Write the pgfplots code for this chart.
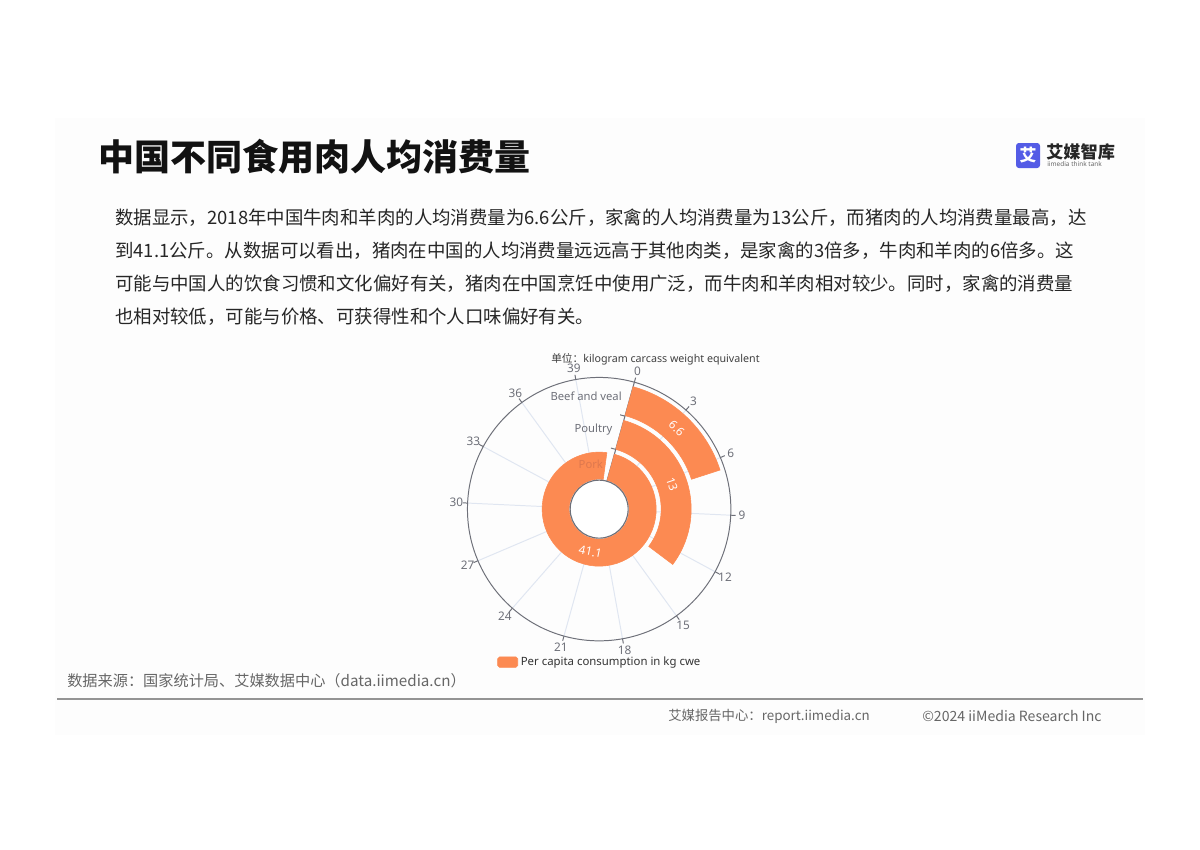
\documentclass[border=0pt]{standalone}
\usepackage{pgfplots}
\pgfplotsset{compat=1.18}
\usepackage{pgfplotstable}
\usepackage{fontspec}
\setmainfont{Noto Sans}
\newfontfamily\cjk{Noto Sans CJK SC}
\newfontfamily\chf{Noto Sans}
\definecolor{barorange}{RGB}{252,138,82}
\definecolor{axgrey}{RGB}{110,112,121}
\definecolor{splitc}{RGB}{224,230,241}
\definecolor{logoblue}{RGB}{84,92,230}
\definecolor{porklab}{RGB}{222,120,78}
\pgfdeclareplotmark{nothing}{}
\newcommand\fs[1]{\fontsize{#1pt}{#1pt}\selectfont}
% value = kg per capita; rin/rout = ring radii (px)
\pgfplotstableread{
name value rin rout
Pork 41.1 30 57
Poultry 13 62 92
Beef 6.6 97 127
}\meat
\begin{document}
\begin{tikzpicture}
% ---------- page (pixel frame) ----------
\begin{scope}[x=0.025cm,y=-0.025cm]
  \fill[white] (0,0) rectangle (1200,849);
  \fill[black!0.7] (55,118) rectangle (1145,735);
  \node[anchor=west, inner sep=0pt, font=\cjk\bfseries\fs{25.6}, text=black!93] at (98,157) {中国不同食用肉人均消费量};
  % logo
  \fill[logoblue, rounded corners=2pt] (1016,143) rectangle (1040,168);
  \node[inner sep=0pt, text=white, font=\cjk\bfseries\fs{12}] at (1028,155.5) {艾};
  \node[anchor=west, inner sep=0pt, font=\cjk\bfseries\fs{12.2}, text=black!85] at (1046,152) {艾媒智库};
  \node[anchor=west, inner sep=0pt, font=\chf\fs{4.6}, text=black!60] at (1047,164.5) {iimedia think tank};
  % paragraph
  \begin{scope}[every node/.style={anchor=west, inner sep=0pt, font=\cjk\fs{13.1}, text=black!85}]
  \node at (115,218) {数据显示，2018年中国牛肉和羊肉的人均消费量为6.6公斤，家禽的人均消费量为13公斤，而猪肉的人均消费量最高，达};
  \node at (115,251) {到41.1公斤。从数据可以看出，猪肉在中国的人均消费量远远高于其他肉类，是家禽的3倍多，牛肉和羊肉的6倍多。这};
  \node at (115,284) {可能与中国人的饮食习惯和文化偏好有关，猪肉在中国烹饪中使用广泛，而牛肉和羊肉相对较少。同时，家禽的消费量};
  \node at (115,317) {也相对较低，可能与价格、可获得性和个人口味偏好有关。};
  \end{scope}
  % unit
  \node[anchor=west, inner sep=0pt, font=\chf\fs{7.6}, text=black!75] at (551,359) {{\cjk 单位：}kilogram carcass weight equivalent};
  % source & footer
  \node[anchor=west, inner sep=0pt, font=\cjk\fs{10.8}, text=black!60] at (67,681) {数据来源：国家统计局、艾媒数据中心（data.iimedia.cn）};
  \draw[black!42, line width=2.1pt] (57,699) -- (1143,699);
  \node[anchor=west, inner sep=0pt, font=\cjk\fs{9.5}, text=black!60] at (668,716) {艾媒报告中心：report.iimedia.cn};
  \node[anchor=west, inner sep=0pt, font=\cjk\fs{10}, text=black!60] at (922,716) {©2024 iiMedia Research Inc};
\end{scope}
% ---------- polar grid (under bars) ----------
\begin{scope}[shift={(14.975cm,-12.725cm)}, x=0.025cm, y=0.025cm]
  \foreach \t in {0,3,...,39} {
    \pgfmathsetmacro\a{74.5-\t*360/42}
    \draw[splitc, line width=0.7pt] (\a:29) -- (\a:131.7);
  }
  \draw[axgrey, line width=0.7pt] (74.5:29) -- (74.5:131.7);
\end{scope}
% ---------- bars ----------
\begin{axis}[
  at={(14.975cm,-12.725cm)}, anchor=origin,
  x=0.025cm, y=0.025cm,
  xmin=-150, xmax=150, ymin=-150, ymax=150,
  axis lines=none, clip=false,
  legend style={draw=none, fill=none, at={(0.16,-0.01)}, anchor=west,
    inner sep=0pt, font=\chf\fs{8.1}, text=black!80},
  legend cell align=left,
]
\addplot[scatter, only marks, mark=nothing,
  point meta=explicit,
  visualization depends on={\thisrow{value} \as \val},
  visualization depends on={\thisrow{rin} \as \rinraw},
  visualization depends on={\thisrow{rout} \as \routraw},
  scatter/@pre marker code/.code={%
    \pgfmathsetmacro\ri{\rinraw*0.711319}%
    \pgfmathsetmacro\ro{\routraw*0.711319}%
    \pgfmathsetmacro\aS{74.5}%
    \pgfmathsetmacro\aE{74.5-\val*360/42}%
    \fill[barorange] (\aS:\ro pt) arc[start angle=\aS, end angle=\aE, radius=\ro pt]
       -- (\aE:\ri pt) arc[start angle=\aE, end angle=\aS, radius=\ri pt] -- cycle;
    \pgfmathsetmacro\th{15.5+\val*360/84}%
    \pgfmathsetmacro\rot{(\th>90)*(\th<270)*180-\th}%
    \pgfmathsetmacro\aM{90-\th}%
    \pgfmathsetmacro\rM{(\ri+\ro)/2}%
    \node[text=white, inner sep=0pt, rotate=\rot, font=\chf\fs{8.3}] at (\aM:\rM pt) {\pgfmathprintnumber[assume math mode=true]{\val}};
  },
  scatter/@post marker code/.code={},
  legend image code/.code={\fill[barorange, rounded corners=1.3pt] (0pt,-0.13cm) rectangle (0.5cm,0.13cm);},
] table[x expr=0, y expr=0, meta=value] {\meat};
\addlegendentry{Per capita consumption in kg cwe}
\end{axis}
% ---------- polar axes (over bars) ----------
\begin{scope}[shift={(14.975cm,-12.725cm)}, x=0.025cm, y=0.025cm]
  \filldraw[fill=white, draw=axgrey, line width=0.8pt] (0,0) circle[radius=29];
  \draw[axgrey, line width=0.7pt] (0,0) circle[radius=131.7];
  \foreach \t in {0,3,...,39} {
    \pgfmathsetmacro\a{74.5-\t*360/42}
    \draw[axgrey, line width=0.7pt] (\a:131.7) -- (\a:136.5);
    \node[text=axgrey, inner sep=0pt, font=\chf\fs{8.4}] at (\a:143) {\t};
  }
  \foreach \r in {62,96.5} {
    \draw[axgrey, line width=0.7pt] (74.5:\r) -- ++(164.5:5);
  }
  \node[anchor=east, inner sep=0pt, xshift=-0.21cm, text=axgrey, font=\chf\fs{8}] at (74.5:116.8) {Beef and veal};
  \node[anchor=east, inner sep=0pt, xshift=-0.21cm, text=axgrey, font=\chf\fs{8}] at (74.5:82.2) {Poultry};
  \node[anchor=east, inner sep=0pt, xshift=-0.21cm, text=porklab, font=\chf\fs{8}] at (74.5:46.8) {Pork};
\end{scope}
\end{tikzpicture}
\end{document}
